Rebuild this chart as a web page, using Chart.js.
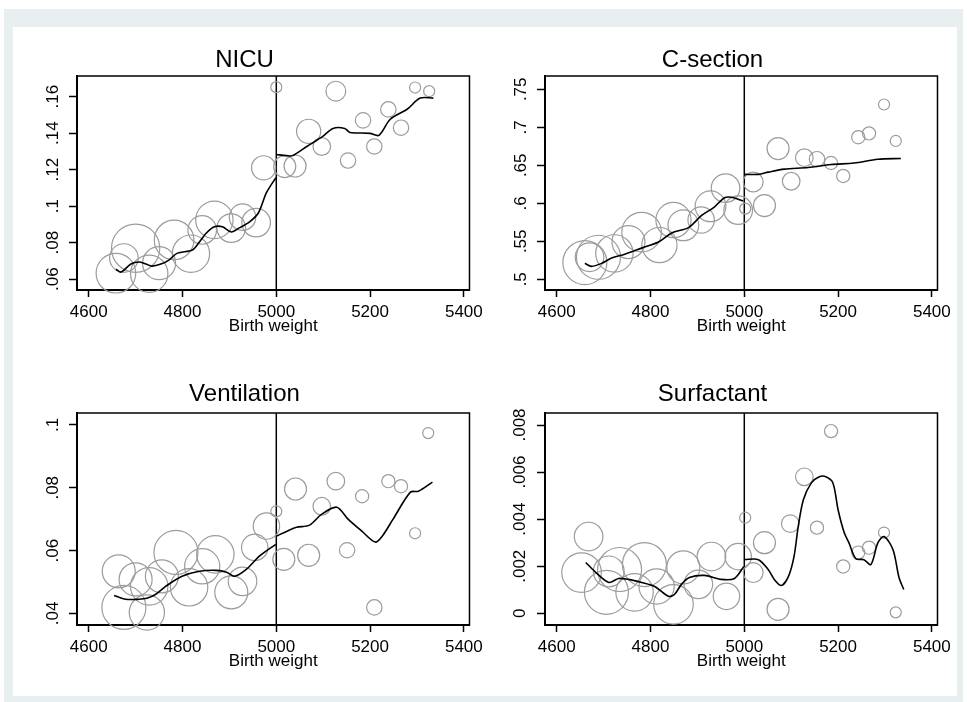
<!DOCTYPE html>
<html lang="en">
<head>
<meta charset="UTF-8">
<title>Outcomes around 5000 g birth weight</title>
<style>
  body { margin: 0; background: #fff; font-family: "Liberation Sans", Arial, sans-serif; }
  .outer { position: absolute; left: 4px; top: 9px; width: 959px; height: 693px; background: #e8eff1; }
  .inner { position: absolute; left: 13px; top: 27px; width: 944px; height: 669px; background: #fff; }
  .panel { position: absolute; width: 471px; }
  .top { top: 20px; height: 320px; }
  .bottom { top: 357px; height: 318px; }
  .left { left: 17px; }
  .right { left: 485px; }
</style>
</head>
<body>
<div class="outer"></div>
<div class="inner"></div>
<div class="panel top left"><canvas id="nicu"></canvas></div>
<div class="panel top right"><canvas id="csec"></canvas></div>
<div class="panel bottom left"><canvas id="vent"></canvas></div>
<div class="panel bottom right"><canvas id="surf"></canvas></div>

<script src="https://cdn.jsdelivr.net/npm/chart.js"></script>
<script>
const cutoff = 5000;
const xTicks = [4600, 4800, 5000, 5200, 5400];

// NICU admission: bin means, births per bin, local fit on each side of the cutoff
const nicuBinX = [4658, 4675, 4700, 4729, 4750, 4782, 4818, 4842, 4868, 4904, 4928, 4957, 4973,
                  5000, 5018, 5040, 5069, 5097, 5127, 5153, 5185, 5209, 5239, 5266, 5296, 5326];
const nicuRate = [.0633, .0716, .077, .063, .0688, .0815, .074, .087, .0925, .088, .094, .091, .121,
                  .1652, .1217, .122, .141, .1327, .163, .125, .147, .1327, .153, .143, .165, .163];
const nicuBirths = [900, 470, 1340, 800, 625, 900, 800, 470, 800, 470, 400, 470, 336,
                    70, 278, 278, 336, 178, 225, 136, 136, 136, 136, 136, 70, 70];
const nicuFitX = [4658, 4669, 4690, 4707, 4722, 4735, 4754, 4771, 4789, 4821, 4836, 4851, 4868, 4885, 4904, 4921, 4943, 4962, 4979, 4999,
                  5000,
                  5000, 5022, 5035, 5065, 5099, 5121, 5146, 5157, 5200, 5219, 5243, 5279, 5307, 5335];
const nicuFitY = [.0655, .0639, .0683, .0694, .0683, .0672, .0683, .0705, .0743, .076, .0804, .0853, .0887, .0887, .0859, .0881, .0914, .0964, .1074, .1156,
                  null,
                  .1283, .1277, .1277, .1327, .1382, .1426, .1426, .1404, .1399, .1388, .1476, .1531, .1592, .1592];
const nicuTicks = [.06, .08, .1, .12, .14, .16];

// C-section
const csecBinX = [4660, 4670, 4689, 4723, 4753, 4781, 4819, 4849, 4870, 4908, 4928, 4960, 4987,
                  5002, 5019, 5043, 5072, 5100, 5128, 5155, 5185, 5211, 5243, 5266, 5298, 5323];
const csecRate = [.522, .529, .529, .534, .549, .562, .545, .578, .571, .578, .596, .620, .591,
                  .593, .628, .597, .672, .629, .660, .658, .653, .636, .687, .692, .730, .682];
const csecBirths = [1111, 470, 1111, 803, 625, 900, 711, 711, 544, 400, 544, 470, 470,
                    70, 225, 278, 278, 178, 178, 136, 100, 100, 100, 100, 70, 70];
const csecFitX = [4660, 4674, 4696, 4717, 4745, 4781, 4817, 4845, 4881, 4909, 4936, 4957, 4972, 4998,
                  5000,
                  5000, 5030, 5051, 5085, 5136, 5185, 5234, 5285, 5334];
const csecFitY = [.521, .517, .521, .528, .533, .541, .549, .561, .568, .584, .595, .607, .608, .603,
                  null,
                  .638, .638, .641, .645, .647, .651, .653, .658, .659];
const csecTicks = [.5, .55, .6, .65, .7, .75];

// Ventilation
const ventBinX = [4664, 4675, 4700, 4724, 4729, 4756, 4786, 4814, 4842, 4870, 4904, 4928, 4954, 4979,
                  5000, 5016, 5041, 5069, 5097, 5127, 5151, 5183, 5209, 5239, 5266, 5296, 5324];
const ventRate = [.0534, .0419, .0508, .0403, .0486, .0518, .0594, .0483, .0550, .0588, .0467, .0502, .0610, .0678,
                  .0725, .0572, .0796, .0585, .0741, .0821, .0601, .0773, .0419, .0821, .0805, .0655, .0974];
const ventBirths = [625, 1111, 625, 711, 803, 625, 1111, 803, 711, 803, 625, 470, 400, 400,
                    70, 278, 278, 278, 178, 178, 136, 100, 136, 100, 100, 70, 70];
const ventFitX = [4654, 4679, 4707, 4724, 4743, 4764, 4799, 4836, 4872, 4894, 4911, 4936, 4964, 4999,
                  5000,
                  5000, 5022, 5043, 5071, 5097, 5129, 5153, 5183, 5211, 5226, 5249, 5286, 5303, 5333];
const ventFitY = [.0457, .0445, .0445, .0448, .0461, .0486, .0518, .0534, .0537, .0531, .0518, .0540, .0582, .0620,
                  null,
                  .0646, .0661, .0674, .0681, .0716, .0738, .0700, .0661, .0627, .0646, .0700, .0786, .0789, .0818];
const ventTicks = [.04, .06, .08, .1];

// Surfactant
const surfBinX = [4653, 4668, 4706, 4711, 4734, 4766, 4787, 4813, 4849, 4870, 4902, 4930, 4962, 4987,
                  5002, 5019, 5043, 5072, 5098, 5128, 5155, 5185, 5211, 5243, 5266, 5298, 5323];
const surfRate = [.00173, .00326, .00089, .00178, .00186, .00089, .00207, .00114, .00038, .00195, .00123, .00241, .00072, .00241,
                  .00406, .00173, .00300, .00017, .00381, .00580, .00364, .00774, .00199, .00258, .00279, .00343, .00004];
const surfBirths = [900, 470, 1111, 544, 1111, 803, 1111, 711, 900, 625, 470, 470, 400, 400,
                    70, 225, 278, 278, 178, 178, 100, 100, 100, 100, 100, 70, 70];
const surfFitX = [4662, 4681, 4711, 4732, 4753, 4781, 4809, 4838, 4851, 4866, 4883, 4915, 4951, 4979, 4999,
                  5000,
                  5000, 5030, 5051, 5064, 5079, 5094, 5106, 5115, 5126, 5143, 5160, 5174, 5189, 5200, 5213, 5223, 5238, 5255, 5270, 5285, 5298, 5317, 5330, 5340];
const surfFitY = [.00216, .00178, .00131, .00148, .00144, .00131, .00114, .00072, .00080, .00123, .00152, .00161, .00144, .00148, .00199,
                  null,
                  .00228, .00228, .00186, .00144, .00118, .00156, .00241, .00368, .00482, .00554, .00580, .00580, .00554, .00440, .00343, .00300, .00232, .00228, .00207, .00300, .00326, .00271, .00152, .00101];
const surfTicks = [0, .002, .004, .006, .008];

const family = '"Liberation Sans", Arial, sans-serif';

// Stata style labels: ".06" instead of "0.06"
const fmtTick = v => v === 0 ? '0' : String(v).replace(/^0\./, '.');

// circle area proportional to births in the bin
const bubbleRadius = n => Math.sqrt(n) * 0.66;

// plot region box and the vertical line at the cutoff
const framePlugin = {
    id: 'frame',
    beforeDatasetsDraw(chart) {
        const {ctx, chartArea: a, scales: {x}} = chart;
        ctx.save();
        ctx.strokeStyle = '#000';
        ctx.lineWidth = 1.5;
        ctx.strokeRect(a.left, a.top, a.right - a.left, a.bottom - a.top);
        const cx = x.getPixelForValue(cutoff);
        ctx.beginPath();
        ctx.moveTo(cx, a.top);
        ctx.lineTo(cx, a.bottom);
        ctx.stroke();
        ctx.restore();
    }
};

function drawPanel(id, title, titleGap, binX, rate, births, fitX, fitY, yMin, yMax, yTicks, yPad) {
    const bubbles = binX.map((x, i) => ({x: x, y: rate[i], r: bubbleRadius(births[i])}));
    const fit = fitX.map((x, i) => ({x: x, y: fitY[i]}));

    new Chart(document.getElementById(id), {
        type: 'bubble',
        data: {
            datasets: [{
                type: 'line',
                data: fit,
                borderColor: '#000',
                borderWidth: 1.6,
                pointRadius: 0,
                tension: 0.3,
                spanGaps: false,
                order: 0
            }, {
                type: 'bubble',
                data: bubbles,
                borderColor: '#9c9c9c',
                borderWidth: 1.2,
                backgroundColor: 'transparent',
                clip: false,
                order: 1
            }]
        },
        options: {
            responsive: true,
            maintainAspectRatio: false,
            animation: false,
            events: [],
            layout: { autoPadding: false, padding: {left: 0, right: 16, top: 0, bottom: 0} },
            plugins: {
                legend: { display: false },
                tooltip: { enabled: false },
                title: {
                    display: true,
                    text: title,
                    color: '#000',
                    font: { family: family, size: 24, weight: 'normal' },
                    padding: { top: 27.2 - titleGap, bottom: titleGap }
                }
            },
            scales: {
                x: {
                    type: 'linear',
                    min: 4575,
                    max: 5412,
                    afterBuildTicks: s => { s.ticks = xTicks.map(v => ({value: v})); },
                    afterFit: s => { s.height = 50; },
                    grid: { drawOnChartArea: false, drawTicks: true, tickLength: 7, tickColor: '#000', tickWidth: 1.5 },
                    border: { display: true, color: '#000', width: 2 },
                    ticks: {
                        color: '#000',
                        font: { family: family, size: 17 },
                        padding: 5,
                        maxRotation: 0,
                        autoSkip: false,
                        callback: v => String(v)
                    },
                    title: {
                        display: true,
                        text: 'Birth weight',
                        color: '#000',
                        font: { family: family, size: 17 },
                        padding: { top: 0, bottom: 3 }
                    }
                },
                y: {
                    type: 'linear',
                    min: yMin,
                    max: yMax,
                    afterBuildTicks: s => { s.ticks = yTicks.map(v => ({value: v})); },
                    afterFit: s => { s.width = 60; },
                    grid: { drawOnChartArea: false, drawTicks: true, tickLength: 8, tickColor: '#000', tickWidth: 1.5 },
                    border: { display: true, color: '#000', width: 2 },
                    ticks: {
                        color: '#000',
                        font: { family: family, size: 17 },
                        padding: yPad,
                        minRotation: 90,
                        maxRotation: 90,
                        crossAlign: 'center',
                        autoSkip: false,
                        callback: fmtTick
                    }
                }
            }
        },
        plugins: [framePlugin]
    });
}

drawPanel('nicu', 'NICU', 1.5, nicuBinX, nicuRate, nicuBirths, nicuFitX, nicuFitY, .0541, .1713, nicuTicks, 4);
drawPanel('csec', 'C-section', 1.5, csecBinX, csecRate, csecBirths, csecFitX, csecFitY, .4859, .7675, csecTicks, 4);
drawPanel('vent', 'Ventilation', 4.2, ventBinX, ventRate, ventBirths, ventFitX, ventFitY, .0363, .1038, ventTicks, 4);
drawPanel('surf', 'Surfactant', 4.2, surfBinX, surfRate, surfBirths, surfFitX, surfFitY, -.000497, .00851, surfTicks, 0);
</script>
</body>
</html>
